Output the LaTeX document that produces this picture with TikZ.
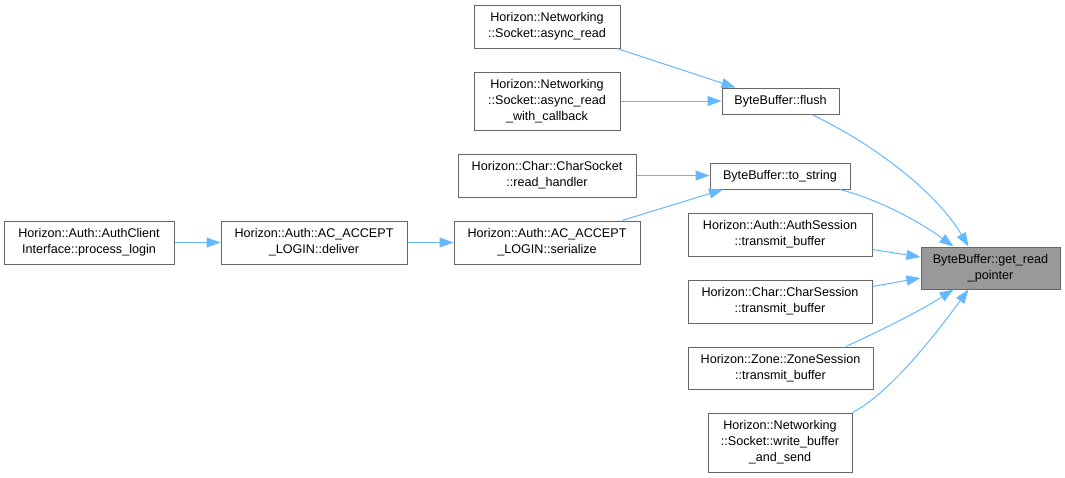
\documentclass[tikz,border=0pt]{standalone}
\usepackage{fontspec}
\setmainfont{Liberation Sans}
\usetikzlibrary{arrows.meta}
\definecolor{edgeblue}{HTML}{63B8FF}
\definecolor{boxgray}{HTML}{666666}
\definecolor{hlfill}{HTML}{999999}
\tikzset{
  fn/.style={draw=boxgray, line width=1pt, fill=white, inner sep=0pt, align=center,
    font=\fontsize{12.6}{16}\selectfont},
  hl/.style={fn, fill=hlfill},
  call/.style={draw=edgeblue, line width=1pt, -{Triangle[length=14pt,width=10pt]}},
}
\begin{document}
\begin{tikzpicture}[x=1pt,y=-1pt]
\useasboundingbox (0,0) rectangle (1065,477);
\node[fn, minimum width=146pt, minimum height=43pt] (ar) at (547,26.5) {Horizon::Networking\\::Socket::async\_read};
\node[fn, minimum width=146pt, minimum height=58pt] (arc) at (547,101) {Horizon::Networking\\::Socket::async\_read\\\_with\_callback};
\node[fn, minimum width=117pt, minimum height=26pt] (flush) at (780.5,101) {ByteBuffer::flush};
\node[fn, minimum width=178pt, minimum height=43pt] (rh) at (547,175.5) {Horizon::Char::CharSocket\\::read\_handler};
\node[fn, minimum width=140pt, minimum height=26pt] (ts) at (780,176) {ByteBuffer::to\_string};
\node[fn, minimum width=184pt, minimum height=43pt] (as) at (780,234.5) {Horizon::Auth::AuthSession\\::transmit\_buffer};
\node[hl, minimum width=139pt, minimum height=42pt] (grp) at (990.5,268) {ByteBuffer::get\_read\\\_pointer};
\node[fn, minimum width=184pt, minimum height=43pt] (cs) at (780,301.5) {Horizon::Char::CharSession\\::transmit\_buffer};
\node[fn, minimum width=185pt, minimum height=42pt] (zs) at (780.5,368) {Horizon::Zone::ZoneSession\\::transmit\_buffer};
\node[fn, minimum width=144pt, minimum height=59pt] (wb) at (780,442.5) {Horizon::Networking\\::Socket::write\_buffer\\\_and\_send};
\node[fn, minimum width=170pt, minimum height=43pt] (pl) at (89,242.5) {Horizon::Auth::AuthClient\\Interface::process\_login};
\node[fn, minimum width=186pt, minimum height=43pt] (dl) at (314,242.5) {Horizon::Auth::AC\_ACCEPT\\\_LOGIN::deliver};
\node[fn, minimum width=186pt, minimum height=43pt] (se) at (547,242.5) {Horizon::Auth::AC\_ACCEPT\\\_LOGIN::serialize};

\draw[call] ([xshift=70pt]ar.south) -- ([xshift=-45pt]flush.north);
\draw[call] (arc.east) -- (flush.west);
\draw[call] (rh.east) -- (rh.east -| ts.west);
\draw[call] ([xshift=75pt]se.north) -- ([xshift=-57pt]ts.south);
\draw[call] (pl.east) -- (dl.west);
\draw[call] (dl.east) -- (se.west);
\draw[call] ([xshift=31pt]flush.south) .. controls (870,142) and (935,190) .. ([xshift=-22pt]grp.north);
\draw[call] ([xshift=60pt]ts.south) .. controls (880,200) and (920,222) .. ([xshift=-37pt]grp.north);
\draw[call] ([yshift=-15pt]as.east) -- ([yshift=11pt]grp.west);
\draw[call] ([yshift=15pt]cs.east) -- ([yshift=-10pt]grp.west);
\draw[call] ([xshift=65.5pt]zs.north) .. controls (875,333) and (915,314) .. ([xshift=-37pt]grp.south);
\draw[call] (wb.north east) .. controls (890,393) and (935,335) .. ([xshift=-22pt]grp.south);
\end{tikzpicture}
\end{document}
